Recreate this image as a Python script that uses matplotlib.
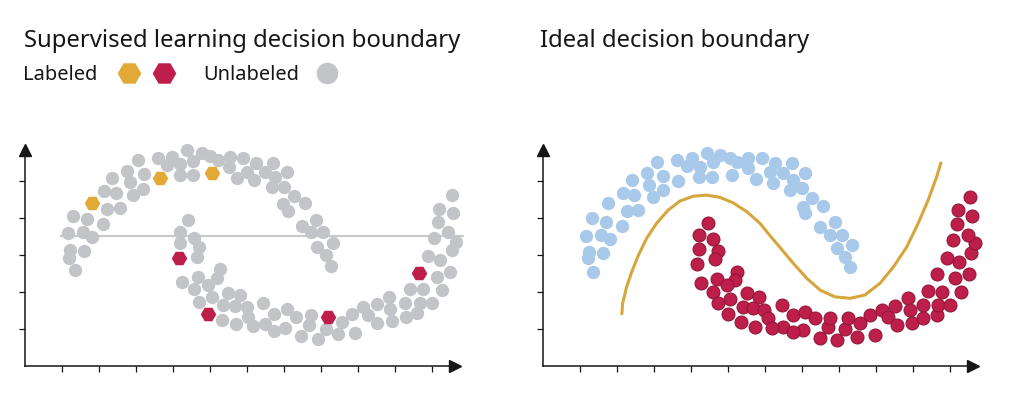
import matplotlib.pyplot as plt
from matplotlib.lines import Line2D

# colours
GRAY = '#c3c4c7'
GOLD = '#e2a936'
CRIMSON = '#be1e4a'
BLUE = '#a9c9ea'
CURVE = '#d6a63c'
INK = '#161616'

# left panel: unlabeled points (upper moon, then lower moon)
gray_upper_x = [1.35, 1.19, 1.22, 1.59, 1.16, 1.57, 1.81, 1.30, 1.68, 2.11, 2.22, 2.57, 2.14, 2.46,
                2.35, 2.92, 2.84, 3.19, 2.76, 3.22, 3.05, 3.59, 3.97, 3.84, 4.19, 4.19, 4.38, 4.54,
                4.54, 4.78, 5.00, 5.22, 5.54, 5.51, 5.73, 5.89, 6.00, 6.24, 6.70, 6.49, 6.19, 6.76,
                7.08, 6.68, 7.00, 7.27, 7.57, 6.97, 7.11, 7.49, 7.86, 7.73, 8.05, 8.32, 7.89, 8.14, 8.27]
gray_upper_y = [2.59, 2.92, 3.14, 3.11, 3.59, 3.62, 3.49, 4.05, 3.97, 3.84, 4.24, 4.27, 4.73, 4.68,
                5.08, 4.62, 4.97, 4.78, 5.27, 5.19, 5.57, 5.62, 5.65, 5.43, 5.46, 5.16, 5.84, 5.54,
                5.16, 5.76, 5.68, 5.57, 5.65, 5.38, 5.08, 5.62, 5.24, 5.49, 5.49, 5.24, 5.03, 5.11,
                5.24, 4.84, 4.84, 4.59, 4.41, 4.38, 4.19, 3.78, 3.95, 3.62, 3.62, 3.32, 3.22, 3.00, 2.70]

gray_lower_x = [4.41, 4.19, 4.57, 4.19, 4.70, 4.65, 4.24, 4.68, 5.27, 5.19, 4.95, 4.57, 5.05, 4.70,
                5.49, 5.81, 5.35, 5.68, 6.00, 5.32, 5.70, 6.03, 6.43, 6.16, 6.49, 6.73, 7.08, 6.73,
                7.03, 7.32, 7.46, 7.73, 7.68, 7.92, 8.14, 8.46, 8.57, 8.84, 8.92, 9.14, 9.27, 9.51,
                9.51, 9.84, 9.86, 9.92, 10.27, 10.30, 10.41, 10.68, 10.59, 10.76, 11.00, 11.27, 11.14,
                11.49, 10.89, 11.22, 11.54, 11.65, 11.05, 11.43, 11.16, 11.57, 11.19, 11.54]
gray_lower_y = [3.95, 3.62, 3.46, 3.32, 3.22, 2.95, 2.27, 2.41, 2.62, 2.38, 2.19, 2.08, 1.86, 1.73,
                1.97, 1.92, 1.65, 1.62, 1.59, 1.24, 1.14, 1.32, 1.70, 1.08, 1.14, 1.41, 1.54, 0.95,
                1.03, 1.32, 0.81, 1.38, 1.11, 0.73, 1.00, 0.86, 1.19, 1.41, 0.89, 1.59, 1.38, 1.68,
                1.16, 1.86, 1.54, 1.22, 1.70, 1.32, 2.08, 1.70, 1.43, 2.08, 1.70, 2.05, 2.41,
                2.54, 2.97, 2.86, 3.14, 3.35, 3.46, 3.62, 3.89, 4.14, 4.24, 4.62]

# left panel: labeled points
gold_x = [1.81, 3.65, 5.05]
gold_y = [4.41, 5.08, 5.22]
crimson_x = [4.16, 4.95, 8.19, 10.65]
crimson_y = [2.92, 1.41, 1.32, 2.51]

# supervised boundary (flat line)
sup_line_x = [0.97, 11.84]
sup_line_y = [3.51, 3.51]

# right panel: class A (blue) and class B (crimson)
blue_x = [1.35, 1.22, 1.24, 1.62, 1.16, 1.57, 1.81, 1.32, 1.70, 2.14, 2.27, 2.57, 1.76, 2.16, 2.46,
          2.41, 2.81, 2.86, 2.97, 3.24, 3.24, 3.08, 3.62, 3.65, 3.89, 4.03, 4.24, 4.22, 4.43, 4.57,
          4.59, 4.78, 5.05, 5.11, 5.24, 5.54, 5.54, 5.76, 5.92, 6.14, 6.27, 6.73, 6.49, 6.22, 6.76,
          7.08, 6.68, 7.00, 7.27, 7.57, 7.03, 7.08, 7.49, 7.89, 7.76, 8.08, 8.35, 7.95, 8.16, 8.30]
blue_y = [2.54, 2.92, 3.08, 3.05, 3.51, 3.54, 3.43, 4.00, 3.89, 3.78, 4.19, 4.22, 4.41, 4.68, 4.62,
          5.03, 5.22, 4.89, 4.57, 4.76, 5.14, 5.51, 5.57, 5.00, 5.41, 5.62, 5.38, 5.11, 5.76, 5.11,
          5.51, 5.70, 5.62, 5.16, 5.51, 5.62, 5.35, 5.05, 5.62, 5.24, 5.49, 5.49, 5.22, 4.95, 5.03,
          5.22, 4.76, 4.81, 4.54, 4.32, 4.30, 4.14, 3.76, 3.89, 3.54, 3.54, 3.27, 3.19, 2.95, 2.68]

red_x = [4.46, 4.22, 4.59, 4.22, 4.73, 4.65, 4.16, 4.27, 4.70, 5.24, 5.19, 4.97, 4.59, 5.05, 4.73,
         5.51, 5.84, 5.41, 5.68, 5.97, 5.00, 5.35, 5.73, 6.08, 6.46, 6.49, 6.19, 6.76, 7.08, 7.03,
         6.76, 7.35, 7.49, 7.70, 7.76, 7.95, 8.16, 8.24, 8.49, 8.57, 8.84, 8.97, 9.16, 9.32, 9.51,
         9.57, 9.86, 9.92, 9.97, 10.27, 10.27, 10.41, 10.65, 10.68, 10.78, 11.00, 11.30, 11.14,
         11.51, 10.65, 10.92, 11.24, 11.57, 11.68, 11.08, 11.49, 11.19, 11.59, 11.22, 11.54]
red_y = [3.86, 3.54, 3.43, 3.16, 3.11, 2.89, 2.76, 2.24, 2.35, 2.54, 2.32, 2.19, 2.00, 1.81, 1.70,
         1.97, 1.86, 1.59, 1.57, 1.51, 1.41, 1.19, 1.05, 1.30, 1.65, 1.05, 1.03, 1.38, 1.46, 0.97,
         0.92, 1.30, 0.76, 1.05, 1.30, 0.70, 1.00, 1.30, 0.78, 1.16, 1.38, 0.84, 1.51, 1.32, 1.62,
         1.11, 1.84, 1.51, 1.16, 1.65, 1.30, 2.03, 1.38, 1.65, 2.00, 1.65, 2.00, 2.38,
         2.49, 2.49, 2.92, 2.81, 3.05, 3.32, 3.41, 3.54, 3.84, 4.05, 4.22, 4.57]

# ideal boundary
ideal_x = [2.13, 2.15, 2.26, 2.40, 2.58, 2.80, 3.07, 3.39, 3.70, 4.06, 4.42, 4.78, 5.14, 5.51,
           5.86, 6.18, 6.41, 6.76, 7.13, 7.49, 7.89, 8.30, 8.70, 9.11, 9.47, 9.83, 10.14, 10.41,
           10.64, 10.76]
ideal_y = [1.38, 1.69, 2.14, 2.55, 3.00, 3.45, 3.86, 4.22, 4.46, 4.59, 4.62, 4.56, 4.41, 4.17,
           3.86, 3.47, 3.20, 2.78, 2.37, 2.05, 1.87, 1.83, 1.92, 2.24, 2.68, 3.22, 3.86, 4.49,
           5.12, 5.52]

plt.rcParams['font.family'] = ['Noto Sans', 'DejaVu Sans']

fig = plt.figure(figsize=(10.24, 3.97), dpi=100)
ax_left = fig.add_axes([25 / 1024, 31 / 397, 430 / 1024, 216 / 397])
ax_right = fig.add_axes([543 / 1024, 31 / 397, 430 / 1024, 216 / 397])


def style_axes(ax):
    ax.set_xlim(0, 11.62)
    ax.set_ylim(0, 5.84)
    for side in ['top', 'right']:
        ax.spines[side].set_visible(False)
    for side in ['left', 'bottom']:
        ax.spines[side].set_color(INK)
        ax.spines[side].set_linewidth(1.1)
    ax.set_xticks(range(1, 12))
    ax.set_yticks(range(1, 6))
    ax.tick_params(length=4, width=0.9, color=INK, labelbottom=False, labelleft=False)
    # arrow heads
    ax.plot(1, 0, '>', color=INK, ms=8, transform=ax.transAxes, clip_on=False)
    ax.plot(0, 1, '^', color=INK, ms=8, transform=ax.transAxes, clip_on=False)


# --- left: supervised ---
style_axes(ax_left)
ax_left.plot(sup_line_x, sup_line_y, color='#c9c9c9', lw=1.6, zorder=1, clip_on=False)
ax_left.scatter(gray_upper_x, gray_upper_y, s=92, color=GRAY, linewidths=0, zorder=2, clip_on=False)
ax_left.scatter(gray_lower_x, gray_lower_y, s=92, color=GRAY, linewidths=0, zorder=2, clip_on=False)
ax_left.scatter(gold_x, gold_y, s=125, marker='H', color=GOLD, linewidths=0, zorder=3)
ax_left.scatter(crimson_x, crimson_y, s=125, marker='H', color=CRIMSON, linewidths=0, zorder=3)

# --- right: ideal ---
style_axes(ax_right)
ax_right.scatter(blue_x, blue_y, s=92, color=BLUE, linewidths=0, zorder=2, clip_on=False)
ax_right.scatter(red_x, red_y, s=88, color=CRIMSON, edgecolors='#8c1636', linewidths=0.7,
                 zorder=2, clip_on=False)
ax_right.plot(ideal_x, ideal_y, color=CURVE, lw=2.2, zorder=3, solid_capstyle='butt',
              solid_joinstyle='round')

# titles and legend row
fig.text(24 / 1024, 1 - 47 / 397, 'Supervised learning decision boundary', fontsize=17.2,
         color=INK, va='baseline')
fig.text(540 / 1024, 1 - 47 / 397, 'Ideal decision boundary', fontsize=17.2, color=INK,
         va='baseline')
fig.text(23 / 1024, 1 - 80 / 397, 'Labeled', fontsize=14.4, color=INK, va='baseline')
fig.text(203 / 1024, 1 - 80 / 397, 'Unlabeled', fontsize=14.4, color=INK, va='baseline')
for cx, col, mk, size in [(129, GOLD, 'H', 17), (164, CRIMSON, 'H', 17), (327, GRAY, 'o', 15.5)]:
    fig.add_artist(Line2D([cx / 1024], [1 - 73 / 397], transform=fig.transFigure, marker=mk,
                          ms=size, color=col, markeredgewidth=0, linestyle='none'))

plt.savefig('out.png', dpi=100)
